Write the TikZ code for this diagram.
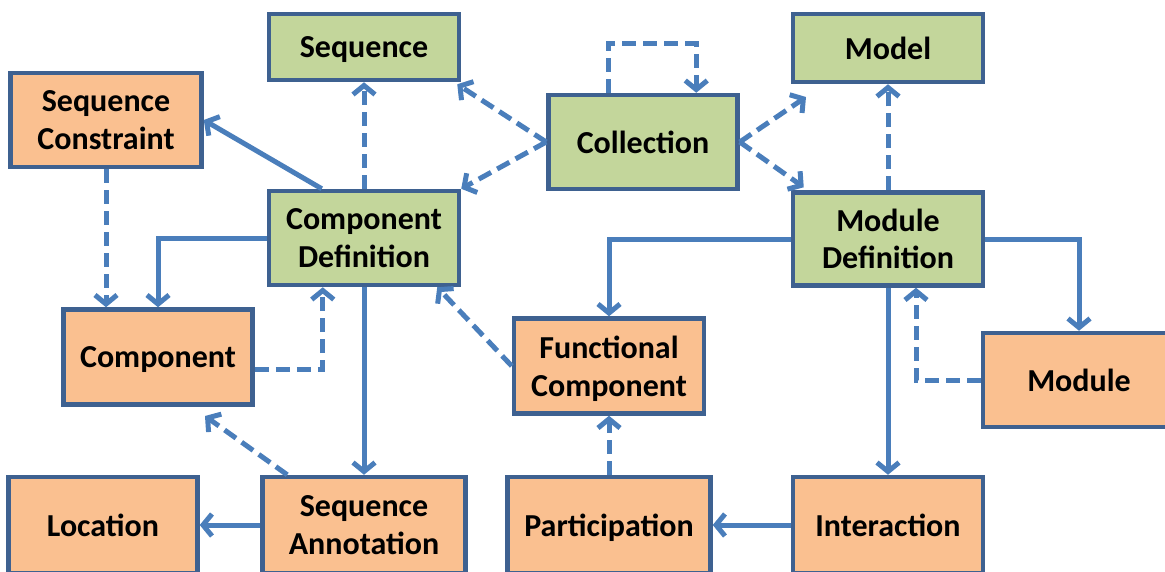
\documentclass[tikz,border=0pt]{standalone}
\usepackage{fontspec}
\setmainfont{Carlito}
\usetikzlibrary{arrows.meta,calc}
\definecolor{gfill}{HTML}{C3D69B}
\definecolor{ofill}{HTML}{FAC090}
\definecolor{bord}{HTML}{3E6190}
\definecolor{lnk}{HTML}{4A7EBB}
\tikzset{
  box/.style={draw=bord, line width=4.5pt, align=center, inner sep=0pt, text depth=0pt,
    font=\fontsize{32}{37.5}\selectfont\bfseries, text=black},
  gbox/.style={box, fill=gfill},
  obox/.style={box, fill=ofill},
  lk/.style={draw=lnk, line width=5pt, -{Straight Barb[length=9pt,width=22pt]}},
  dlk/.style={lk, dash pattern=on 14pt off 7pt},
}
\begin{document}
\begin{tikzpicture}[x=1pt,y=-1pt]
\useasboundingbox (0,0) rectangle (1165,571);
\clip (0,0) rectangle (1165,571);
\node[gbox, minimum width=190, minimum height=66] (seq) at (364,47) {Sequence};
\node[gbox, minimum width=190, minimum height=68] (model) at (888,48) {Model};
\node[obox, minimum width=191, minimum height=94] (sc) at (106,120) {Sequence\\Constraint};
\node[gbox, minimum width=189, minimum height=94] (coll) at (643,142) {Collection};
\node[gbox, minimum width=190, minimum height=94] (cd) at (364,238) {Component\\Definition};
\node[gbox, minimum width=190, minimum height=93] (md) at (888,239) {Module\\Definition};
\node[obox, minimum width=189, minimum height=95] (comp) at (158,357) {Component};
\node[obox, minimum width=190, minimum height=95] (fc) at (609,366) {Functional\\Component};
\node[obox, minimum width=192, minimum height=94] (module) at (1079,380) {Module};
\node[obox, minimum width=189, minimum height=96] (loc) at (103,525) {Location};
\node[obox, minimum width=203, minimum height=96] (sa) at (364,525) {Sequence\\Annotation};
\node[obox, minimum width=203, minimum height=96] (part) at (609,525) {Participation};
\node[obox, minimum width=190, minimum height=96] (inter) at (888,525) {Interaction};
\coordinate (ma) at (806,97);
\coordinate (ca) at (205,416);
% connectors
\draw[dlk] (cd.north) -- (seq.south);
\draw[lk] ($(cd.north west)+(55,0)$) -- (sc.east);
\draw[dlk] (coll.west) -- ($(seq.south east)+(-4,2)$);
\draw[dlk] (coll.west) -- (cd.north east);
\draw[dlk] ($(coll.north west)+(62,0)$) -- ++(0,-49) -| ($(coll.north west)+(150,0)$);
\draw[dlk] (coll.east) -- (ma);
\draw[dlk] (coll.east) -- ($(md.north west)+(13,-3)$);
\draw[dlk] (md.north) -- (model.south);
\draw[lk] (md.west) -| (fc.north);
\draw[lk] (md.east) -| (module.north);
\draw[lk] (md.south) -- (inter.north);
\draw[dlk] (module.west) -| ($(md.south)+(28,0)$);
\draw[lk] (inter.west) -- (part.east);
\draw[dlk] (part.north) -- (fc.south);
\draw[dlk] (fc.west) -- ($(cd.south east)+(-24,0)$);
\draw[lk] (cd.south) -- (sa.north);
\draw[lk] (sa.west) -- (loc.east);
\draw[dlk] ($(sa.north west)+(27,0)$) -- (ca);
\draw[lk] (cd.west) -| (comp.north);
\draw[dlk] (sc.south) -- (sc.south |- comp.north);
\draw[dlk] ($(comp.east)+(0,12)$) -| ($(cd.south west)+(56,0)$);
\end{tikzpicture}
\end{document}
